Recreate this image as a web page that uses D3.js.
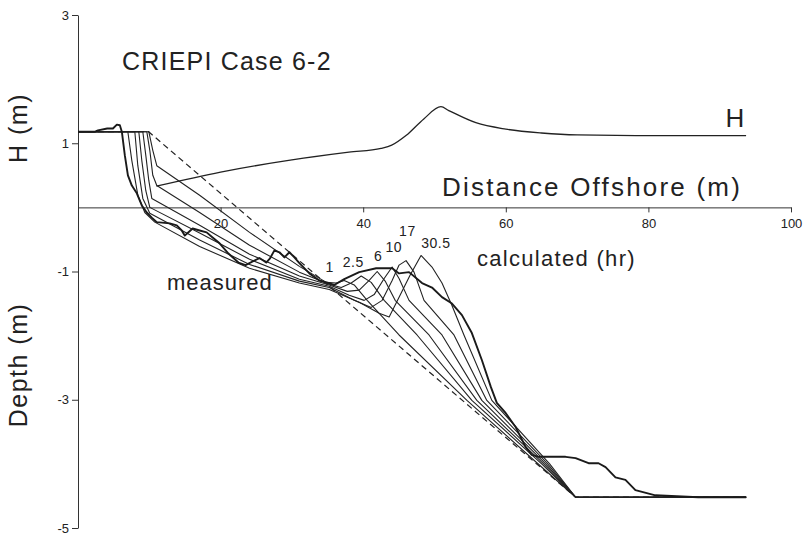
<!DOCTYPE html>
<html><head><meta charset="utf-8">
<script src="https://cdn.jsdelivr.net/npm/d3@7"></script>
<style>
html,body{margin:0;padding:0;background:#fff;}
svg{display:block;}
text{font-family:"Liberation Sans",Arial,sans-serif;fill:#222;}
</style></head><body>
<svg id="chart" width="809" height="537"></svg>
<script>
// Axis ticks
const xTicks = [20, 40, 60, 80, 100];
const yTicks = [3, 1, -1, -3, -5];

// Wave height H along the profile: [distance offshore (m), H (m)]
const waveHeight = [[11.0,0.33],[20,0.55],[30,0.74],[38,0.86],[42.5,0.92],[44,0.97],[46,1.12],[48.5,1.38],[50.9,1.57],[52,1.51],[55.8,1.32],[60,1.22],[65,1.16],[70,1.13],[80,1.12],[93.7,1.12]];

// Initial (planar) profile: [distance (m), elevation (m)]
const initialProfile = [[0,1.18],[9.9,1.18],[69.79,-4.52],[93.71,-4.52]];

// Measured profile
const measuredProfile = [[0,1.18],[2.4,1.18],[2.8,1.20],[4.1,1.23],[4.9,1.23],[5.45,1.29],[5.87,1.28],[6.15,1.18],[6.57,0.81],[7.0,0.50],[7.55,0.34],[8.25,0.22],[8.95,0.03],[9.65,-0.08],[10.35,-0.16],[11.05,-0.23],[12.87,-0.25],[13.85,-0.28],[14.55,-0.36],[14.97,-0.44],[15.38,-0.40],[16.08,-0.33],[17.06,-0.36],[18.04,-0.39],[18.88,-0.47],[19.86,-0.56],[21.1,-0.72],[22.5,-0.86],[23.5,-0.90],[25.45,-0.79],[26.4,-0.86],[26.9,-0.80],[27.55,-0.67],[28.25,-0.70],[28.95,-0.78],[29.65,-0.70],[30.35,-0.78],[31.05,-0.87],[32.45,-1.03],[33.85,-1.14],[34.83,-1.17],[35.94,-1.21],[37.34,-1.12],[39.44,-1.01],[41.82,-0.95],[44.06,-0.95],[45.03,-1.03],[46.43,-1.01],[48.25,-1.18],[49.65,-1.25],[51.05,-1.40],[52.45,-1.50],[53.85,-1.68],[55.24,-1.96],[56.64,-2.38],[57.9,-2.80],[58.74,-3.05],[60.0,-3.21],[61.4,-3.43],[62.8,-3.74],[63.64,-3.86],[64.62,-3.89],[68.39,-3.89],[69.79,-3.91],[71.61,-3.99],[73.01,-3.99],[73.99,-4.05],[75.38,-4.21],[76.78,-4.25],[78.18,-4.41],[80.98,-4.49],[86.99,-4.52],[93.71,-4.52]];

// Calculated profiles, one per elapsed time (hr)
const calcHours = ["1", "2.5", "6", "10", "17", "30.5"];
const calc1h = [[0,1.18],[9.93,1.18],[10.49,0.89],[11.05,0.65],[17.06,0.19],[24.06,-0.39],[31.05,-0.92],[34.83,-1.17],[36.22,-1.18],[37.34,-1.14],[38.74,-1.21],[40.56,-1.45],[45.03,-1.99],[54.55,-3.01],[63.92,-3.94],[69.79,-4.52],[93.71,-4.52]];
const calc2_5h = [[0,1.18],[9.65,1.18],[10.07,0.89],[10.49,0.50],[11.05,0.34],[17.06,-0.08],[24.06,-0.59],[31.05,-1.01],[35.24,-1.20],[36.92,-1.25],[38.32,-1.18],[39.72,-1.07],[41.12,-1.17],[42.94,-1.45],[47.55,-1.99],[55.24,-3.01],[65.03,-4.00],[69.79,-4.52],[93.71,-4.52]];
const calc6h = [[0,1.18],[9.09,1.18],[9.51,0.81],[9.93,0.42],[10.35,0.14],[17.06,-0.28],[24.06,-0.73],[31.05,-1.07],[35.24,-1.21],[37.76,-1.31],[39.44,-1.29],[40.84,-1.14],[41.96,-1.00],[43.08,-1.15],[44.48,-1.45],[49.23,-1.99],[55.94,-3.01],[65.31,-4.00],[69.79,-4.52],[93.71,-4.52]];
const calc10h = [[0,1.18],[8.53,1.18],[8.95,0.73],[9.51,0.26],[10.07,0.00],[17.06,-0.40],[24.06,-0.81],[31.05,-1.12],[35.24,-1.23],[38.04,-1.37],[40.14,-1.45],[41.54,-1.36],[42.94,-1.11],[44.06,-0.93],[45.03,-1.11],[46.43,-1.45],[51.05,-1.99],[56.64,-3.01],[65.59,-4.00],[69.79,-4.52],[93.71,-4.52]];
const calc17h = [[0,1.18],[7.97,1.18],[8.39,0.65],[9.09,0.14],[10.07,-0.09],[17.06,-0.51],[24.06,-0.89],[31.05,-1.15],[35.24,-1.25],[38.74,-1.45],[41.12,-1.56],[42.66,-1.45],[44.06,-1.14],[45.03,-0.90],[46.01,-0.83],[47.13,-1.01],[48.53,-1.45],[52.73,-1.99],[57.34,-3.01],[65.87,-4.00],[69.79,-4.52],[93.71,-4.52]];
const calc30_5h = [[0,1.18],[6.99,1.18],[7.55,0.73],[8.39,0.19],[9.37,-0.08],[10.77,-0.23],[17.06,-0.61],[24.06,-0.95],[31.05,-1.18],[35.24,-1.28],[39.44,-1.48],[42.24,-1.65],[43.64,-1.71],[45.03,-1.40],[46.57,-1.06],[48.11,-0.75],[49.65,-0.93],[51.05,-1.18],[52.45,-1.53],[54.13,-1.99],[58.04,-3.01],[66.15,-4.00],[69.79,-4.52],[93.71,-4.52]];

const svg = d3.select("#chart");
const x = d3.scaleLinear().domain([0, 100]).range([78, 791]);
const y = d3.scaleLinear().domain([-5, 3]).range([528, 15]);
const line = d3.line().x(d => x(d[0])).y(d => y(d[1]));

// axes
const yAxis = svg.append("g").attr("transform", `translate(${x(0)},0)`)
  .call(d3.axisLeft(y).tickValues(yTicks).tickSize(6).tickSizeOuter(0).tickFormat(d => String(d)));
const xAxis = svg.append("g").attr("transform", `translate(0,${y(0)})`)
  .call(d3.axisBottom(x).tickValues(xTicks).tickSize(5).tickSizeOuter(0).tickFormat(d => String(d)));
[yAxis, xAxis].forEach(g => {
  g.select(".domain").attr("stroke", "#333").attr("stroke-width", 1);
  g.selectAll(".tick line").attr("stroke", "#333");
  g.selectAll(".tick text").attr("font-size", 13).attr("fill", "#222")
    .attr("font-family", "'Liberation Sans', Arial, sans-serif");
});
yAxis.selectAll(".tick text").attr("x", -9);
xAxis.selectAll(".tick text").attr("y", 11);

// initial profile
svg.append("path").datum(initialProfile).attr("d", line)
  .attr("fill", "none").attr("stroke", "#222").attr("stroke-width", 1.2)
  .attr("stroke-dasharray", "6,4");

// calculated profiles
const calcProfiles = [calc1h, calc2_5h, calc6h, calc10h, calc17h, calc30_5h];
svg.append("g").selectAll("path").data(calcProfiles).join("path")
  .attr("d", line).attr("fill", "none").attr("stroke", "#222")
  .attr("stroke-width", 1.1).attr("stroke-linejoin", "round");

// measured profile
svg.append("path").datum(measuredProfile).attr("d", line)
  .attr("fill", "none").attr("stroke", "#1a1a1a").attr("stroke-width", 1.9)
  .attr("stroke-linejoin", "round");

// wave height
svg.append("path").datum(waveHeight)
  .attr("d", d3.line().x(d => x(d[0])).y(d => y(d[1])).curve(d3.curveMonotoneX))
  .attr("fill", "none").attr("stroke", "#222").attr("stroke-width", 1.3);

// time labels on the calculated profiles
const hourLabelAt = [[35.3,-1.01],[38.6,-0.93],[42.1,-0.84],[44.3,-0.69],[46.2,-0.44],[50.2,-0.64]];
svg.append("g").selectAll("text").data(calcHours).join("text")
  .attr("x", (d, i) => x(hourLabelAt[i][0])).attr("y", (d, i) => y(hourLabelAt[i][1]))
  .attr("text-anchor", "middle").attr("font-size", 14).attr("letter-spacing", 0.5)
  .text(d => d);

// titles and annotations
const txt = (s, px, py, size, opts = {}) => {
  const t = svg.append("text").attr("x", px).attr("y", py).attr("font-size", size)
    .attr("letter-spacing", opts.ls ?? 1).text(s);
  if (opts.rotate) t.attr("transform", `rotate(-90,${px},${py})`).attr("text-anchor", "middle");
  return t;
};
txt("CRIEPI Case 6-2", 122, 70, 25, {ls: 1.2});
txt("H", x(90.8), y(1.25), 26);
txt("Distance Offshore (m)", 442, 196, 26, {ls: 2.2});
txt("calculated (hr)", 477, 266, 22, {ls: 1.3});
txt("measured", 167, 290, 22, {ls: 1});
txt("H (m)", 27, 128, 25, {rotate: true, ls: 1.5});
txt("Depth (m)", 27, 365, 25, {rotate: true, ls: 1.5});
</script></body></html>
